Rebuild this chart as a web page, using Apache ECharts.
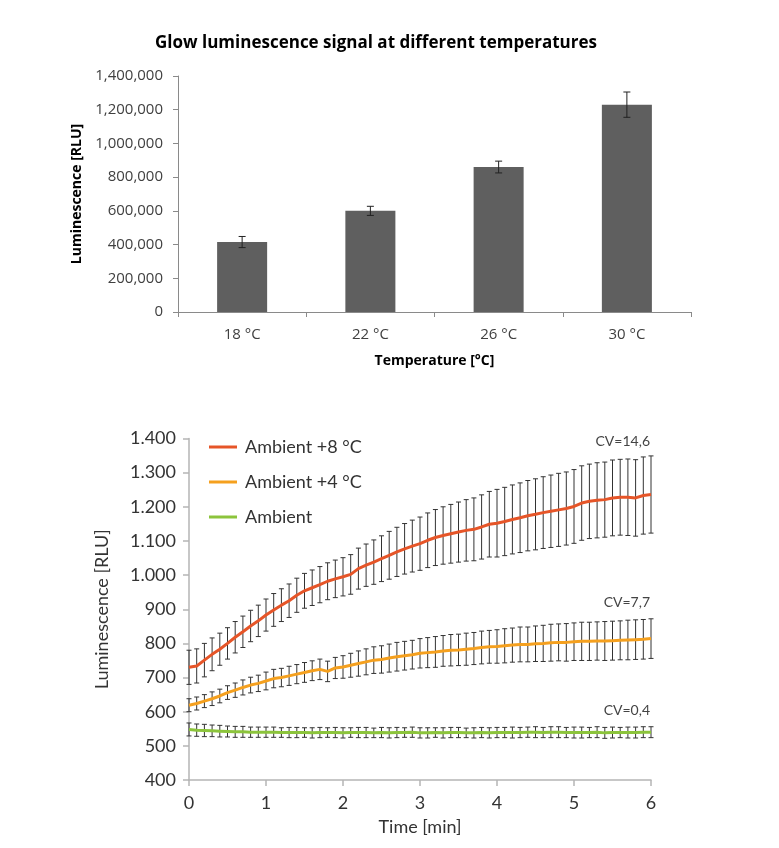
<!DOCTYPE html>
<html>
<head>
<meta charset="utf-8">
<script src="https://cdn.jsdelivr.net/npm/echarts@6/dist/echarts.min.js"></script>
<style>
  html, body { margin: 0; padding: 0; background: #fff; }
  #chart { width: 779px; height: 848px; }
</style>
</head>
<body>
<div id="chart"></div>
<script>
// ---------- Top chart data ----------
const temperatures = ['18 °C', '22 °C', '26 °C', '30 °C'];
const glowMeans = [415000, 600000, 860000, 1230000];
const glowErrors = [33000, 27000, 35000, 75000];

// ---------- Bottom chart data ----------
const timeMin = [0, 0.1, 0.2, 0.3, 0.4, 0.5, 0.6, 0.7, 0.8, 0.9,
  1, 1.1, 1.2, 1.3, 1.4, 1.5, 1.6, 1.7, 1.8, 1.9,
  2, 2.1, 2.2, 2.3, 2.4, 2.5, 2.6, 2.7, 2.8, 2.9,
  3, 3.1, 3.2, 3.3, 3.4, 3.5, 3.6, 3.7, 3.8, 3.9,
  4, 4.1, 4.2, 4.3, 4.4, 4.5, 4.6, 4.7, 4.8, 4.9,
  5, 5.1, 5.2, 5.3, 5.4, 5.5, 5.6, 5.7, 5.8, 5.9, 6];

const plus8Mean = [730, 734, 751, 768, 783, 800, 818, 834, 851, 866,
  883, 898, 912, 925, 941, 954, 963, 972, 982, 989,
  995, 1002, 1019, 1029, 1038, 1048, 1058, 1068, 1077, 1085,
  1092, 1102, 1110, 1116, 1121, 1126, 1131, 1134, 1141, 1149,
  1152, 1157, 1163, 1168, 1174, 1178, 1183, 1187, 1191, 1195,
  1201, 1211, 1216, 1219, 1221, 1226, 1228, 1228, 1226, 1233, 1236];
const plus8Sd = [50, 50, 49, 48, 47, 46, 46, 46, 46, 46,
  47, 48, 48, 49, 50, 51, 52, 53, 54, 55,
  56, 58, 60, 62, 65, 67, 70, 72, 74, 76,
  78, 80, 82, 84, 86, 88, 90, 92, 94, 96,
  99, 100, 101, 102, 103, 104, 105, 106, 107, 107,
  108, 109, 109, 110, 110, 111, 111, 112, 112, 113, 113];

const plus4Mean = [619, 624, 631, 638, 646, 656, 663, 671, 678, 683,
  690, 697, 700, 705, 710, 715, 720, 724, 718, 728,
  731, 736, 741, 746, 751, 753, 757, 761, 764, 767,
  771, 773, 775, 778, 780, 781, 783, 785, 788, 790,
  791, 793, 795, 797, 797, 799, 800, 802, 803, 803,
  805, 806, 806, 807, 807, 808, 809, 810, 811, 812, 814];
const plus4Sd = [19, 19, 19, 20, 20, 20, 21, 22, 23, 24,
  26, 27, 27, 28, 28, 29, 29, 30, 30, 31,
  33, 35, 37, 38, 39, 40, 41, 42, 42, 42,
  43, 44, 45, 45, 46, 46, 47, 47, 48, 48,
  49, 50, 50, 51, 51, 52, 53, 54, 54, 55,
  55, 56, 56, 56, 57, 57, 57, 58, 58, 58, 58];

const ambientMean = [548, 546, 545, 544, 543, 542, 541, 541, 540, 540,
  540, 540, 539, 539, 539, 539, 538, 539, 539, 539,
  538, 539, 539, 539, 538, 539, 538, 539, 539, 540,
  538, 538, 539, 538, 539, 539, 538, 538, 539, 538,
  539, 539, 539, 539, 540, 540, 539, 540, 540, 539,
  539, 539, 539, 540, 538, 539, 539, 539, 539, 540, 540];
const ambientSd = [19, 18, 18, 17, 17, 16, 16, 16, 15, 15,
  15, 15, 14, 15, 15, 14, 15, 15, 14, 15,
  15, 14, 15, 15, 14, 15, 15, 15, 14, 15,
  15, 15, 14, 15, 15, 15, 14, 15, 15, 15,
  15, 15, 16, 15, 15, 16, 15, 16, 16, 15,
  16, 16, 15, 16, 16, 16, 15, 16, 16, 16, 16];

const seriesNames = ['Ambient +8 °C', 'Ambient +4 °C', 'Ambient'];
const seriesColors = ['#E65528', '#F5A01E', '#8CC43C'];
const cvLabels = ['CV=14,6', 'CV=7,7', 'CV=0,4'];

// ---------- helpers ----------
function errorRender(capHalf, color) {
  return function (params, api) {
    const x = api.value(0);
    const lo = api.coord([x, api.value(1)]);
    const hi = api.coord([x, api.value(2)]);
    const st = { stroke: color, lineWidth: 1 };
    return {
      type: 'group',
      children: [
        { type: 'line', shape: { x1: lo[0], y1: lo[1], x2: hi[0], y2: hi[1] }, style: st },
        { type: 'line', shape: { x1: hi[0] - capHalf, y1: hi[1], x2: hi[0] + capHalf, y2: hi[1] }, style: st },
        { type: 'line', shape: { x1: lo[0] - capHalf, y1: lo[1], x2: lo[0] + capHalf, y2: lo[1] }, style: st }
      ]
    };
  };
}
function errData(xs, means, sds) {
  return means.map((m, i) => [xs[i], m - sds[i], m + sds[i]]);
}
function commaFmt(v) { return String(v).replace(/\B(?=(\d{3})+(?!\d))/g, ','); }
function dotFmt(v) { return String(v).replace(/\B(?=(\d{3})+(?!\d))/g, '.'); }

const topFont = '"Open Sans", "Noto Sans", sans-serif';
const botFont = 'Lato, "Open Sans", sans-serif';

const means = [plus8Mean, plus4Mean, ambientMean];
const sds = [plus8Sd, plus4Sd, ambientSd];

const series = [
  {
    type: 'bar', xAxisIndex: 0, yAxisIndex: 0,
    data: glowMeans, barWidth: '39%',
    itemStyle: { color: '#5f5f5f' }, z: 2
  },
  {
    type: 'custom', xAxisIndex: 0, yAxisIndex: 0,
    data: errData(temperatures.map((c, i) => i), glowMeans, glowErrors),
    renderItem: errorRender(3.5, '#222'), z: 3, silent: true
  }
];
means.forEach((m, k) => {
  series.push({
    type: 'custom', xAxisIndex: 1, yAxisIndex: 1,
    data: errData(timeMin, m, sds[k]),
    renderItem: errorRender(2.5, '#333'), z: 2, silent: true
  });
});
means.forEach((m, k) => {
  series.push({
    name: seriesNames[k], type: 'line', xAxisIndex: 1, yAxisIndex: 1,
    data: m.map((v, i) => [timeMin[i], v]),
    showSymbol: false, symbol: 'none',
    lineStyle: { width: 3, color: seriesColors[k] },
    itemStyle: { color: seriesColors[k] },
    z: 5 + (2 - k)
  });
});

const option = {
  animation: false,
  backgroundColor: '#ffffff',
  graphic: [
    {
      type: 'text', x: 376, y: 43,
      style: {
        text: 'Glow luminescence signal at different temperatures',
        align: 'center', verticalAlign: 'middle',
        fontSize: 17, fontWeight: 'bold', fontFamily: topFont, fill: '#000'
      }
    },
    { type: 'text', x: 650, y: 441, style: { text: cvLabels[0], align: 'right', verticalAlign: 'middle', fontSize: 14, fontFamily: botFont, fill: '#444' } },
    { type: 'text', x: 650, y: 602, style: { text: cvLabels[1], align: 'right', verticalAlign: 'middle', fontSize: 14, fontFamily: botFont, fill: '#444' } },
    { type: 'text', x: 650, y: 710, style: { text: cvLabels[2], align: 'right', verticalAlign: 'middle', fontSize: 14, fontFamily: botFont, fill: '#444' } }
  ],
  legend: {
    data: seriesNames,
    orient: 'vertical',
    left: 204, top: 431,
    icon: 'rect', itemWidth: 28, itemHeight: 3, itemGap: 13,
    textStyle: { fontSize: 18, lineHeight: 22, color: '#333', fontFamily: botFont, padding: [0, 0, 0, 3] },
    selectedMode: false
  },
  grid: [
    { left: 178, top: 76, width: 513, height: 236, containLabel: false, outerBoundsMode: 'none' },
    { left: 189, top: 438.5, width: 462, height: 341.5, containLabel: false, outerBoundsMode: 'none' }
  ],
  xAxis: [
    {
      gridIndex: 0, type: 'category', data: temperatures,
      axisLine: { show: true, lineStyle: { color: '#8a8a8a', width: 1 } },
      axisTick: { show: true, alignWithLabel: false, length: 5, lineStyle: { color: '#8a8a8a' } },
      axisLabel: { margin: 15, fontSize: 15, color: '#404040', fontFamily: topFont },
      splitLine: { show: false },
      name: 'Temperature [°C]', nameLocation: 'middle', nameGap: 42,
      nameTextStyle: { fontSize: 14, fontWeight: 'bold', color: '#000', fontFamily: topFont }
    },
    {
      gridIndex: 1, type: 'value', min: 0, max: 6, interval: 1,
      axisLine: { show: true, lineStyle: { color: '#b5b5b5', width: 1.5 } },
      axisTick: { show: true, length: 6, lineStyle: { color: '#b5b5b5', width: 1.5 } },
      axisLabel: { margin: 14, fontSize: 18, color: '#333', fontFamily: botFont },
      splitLine: { show: false },
      name: 'Time [min]', nameLocation: 'middle', nameGap: 38,
      nameTextStyle: { fontSize: 18, color: '#333', fontFamily: botFont }
    }
  ],
  yAxis: [
    {
      gridIndex: 0, type: 'value', min: 0, max: 1400000, interval: 200000,
      axisLine: { show: true, lineStyle: { color: '#8a8a8a', width: 1 } },
      axisTick: { show: true, length: 5, lineStyle: { color: '#8a8a8a' } },
      axisLabel: { margin: 15, fontSize: 15, color: '#404040', fontFamily: topFont, formatter: commaFmt },
      splitLine: { show: false },
      name: 'Luminescence [RLU]', nameLocation: 'middle', nameGap: 94, nameRotate: 90,
      nameTextStyle: { fontSize: 14, fontWeight: 'bold', color: '#000', fontFamily: topFont }
    },
    {
      gridIndex: 1, type: 'value', min: 400, max: 1400, interval: 100,
      axisLine: { show: true, lineStyle: { color: '#b5b5b5', width: 1.5 } },
      axisTick: { show: true, length: 6, lineStyle: { color: '#b5b5b5', width: 1.5 } },
      axisLabel: { margin: 13, fontSize: 18, color: '#333', fontFamily: botFont, formatter: dotFmt },
      splitLine: { show: false },
      name: 'Luminescence [RLU]', nameLocation: 'middle', nameGap: 78, nameRotate: 90,
      nameTextStyle: { fontSize: 18, color: '#333', fontFamily: botFont }
    }
  ],
  series: series
};

const chart = echarts.init(document.getElementById('chart'), null, { renderer: 'canvas' });
chart.setOption(option);
</script>
</body>
</html>
